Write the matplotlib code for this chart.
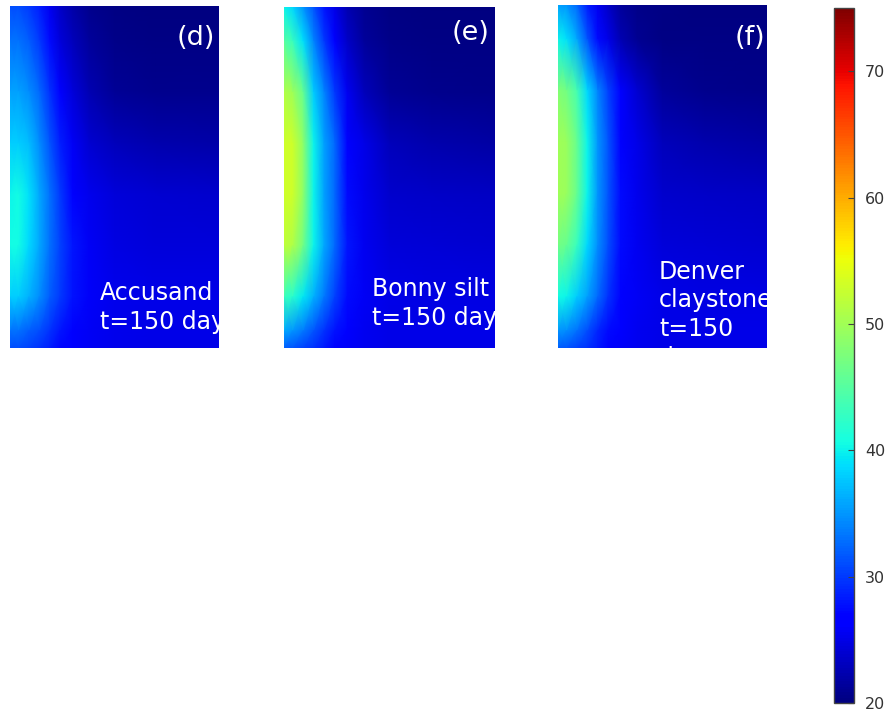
import numpy as np
import matplotlib
matplotlib.use("Agg")
import matplotlib.pyplot as plt
from matplotlib.colors import Normalize
from matplotlib.cm import ScalarMappable

# grid positions (fraction of panel width / depth from top)
x_pos = [0, 0.04, 0.09, 0.14, 0.19, 0.24, 0.3, 0.38, 0.5, 0.7, 1.0]
y_pos = [0, 0.1, 0.25, 0.4, 0.55, 0.7, 0.85, 0.95, 1.0]

# temperature estimates (deg C), rows top -> bottom
temp_accusand = [
    [31, 31, 30, 28.5, 25.5, 23.5, 22, 20.8, 20.3, 20.2, 20.2],
    [33, 33, 32, 30, 27.5, 24.5, 22.8, 21.3, 20.5, 20.3, 20.3],
    [35.5, 35.5, 34.5, 32.5, 29.5, 26.2, 24.5, 22.5, 21.2, 20.8, 20.8],
    [38, 38, 37, 34.5, 31.5, 28.5, 25.8, 24, 22.8, 22.2, 22],
    [40, 40.5, 39, 36, 33, 30, 27, 25.3, 24.5, 24, 23.8],
    [40.5, 40.5, 38.5, 36, 33, 30.5, 28, 25.8, 24.8, 24.5, 24.5],
    [38, 38, 36.5, 34.5, 32, 30, 27.8, 26, 25.2, 25, 25],
    [33, 33, 32, 31, 29.5, 28, 26.8, 25.8, 25.2, 25, 25],
    [31, 31, 30.5, 29.5, 28.5, 27.3, 26.3, 25.6, 25.2, 25, 25],
]
temp_bonny = [
    [40, 38.5, 35, 31.5, 28, 25, 22.5, 21, 20.4, 20.2, 20.2],
    [45, 43, 39, 34, 30, 26.5, 23.5, 21.5, 20.6, 20.3, 20.3],
    [51, 50, 46, 38, 34, 30, 25.5, 23, 21.2, 20.7, 20.6],
    [53, 53, 49, 40, 35.5, 32.5, 27, 25, 23, 22.2, 21.8],
    [53, 53, 49, 40, 35.5, 32.5, 27.5, 25.3, 23.8, 23.5, 23.3],
    [52, 51, 47, 40, 36, 32.5, 28, 25.5, 24.5, 24.2, 24],
    [43, 42, 39.5, 36.5, 33.5, 30.5, 27.5, 25.8, 25, 24.8, 24.8],
    [36, 35, 33.5, 31.5, 29.5, 27.8, 26.3, 25.5, 25, 25, 25],
    [32, 31.5, 30.5, 29.5, 28.3, 27, 26, 25.4, 25, 25, 25],
]
temp_denver = [
    [35.5, 35, 32.5, 28.5, 25.5, 23.5, 21.5, 20.5, 20.3, 20.2, 20.2],
    [40, 39, 36, 31.5, 27.5, 25, 22.5, 21, 20.4, 20.3, 20.3],
    [48, 47, 44, 38.5, 34, 30.5, 26.5, 24, 21.5, 20.8, 20.6],
    [50, 49.5, 46, 40, 35, 31.5, 27, 25, 23, 22.2, 21.8],
    [50, 49.5, 46, 40, 35, 31.5, 27.5, 25.3, 23.8, 23.5, 23.3],
    [47, 46, 43, 38.5, 34.5, 31, 27.5, 25.5, 24.5, 24.2, 24],
    [40.5, 40, 38, 35.5, 32.5, 29.5, 27, 25.8, 25, 24.8, 24.8],
    [35, 34.5, 33, 31, 29, 27.5, 26.3, 25.5, 25, 25, 25],
    [32, 31.5, 30.5, 29.5, 28.3, 27, 26, 25.4, 25, 25, 25],
]
panel_letters = ["(d)", "(e)", "(f)"]
panel_texts = ["Accusand\nt=150 days", "Bonny silt\nt=150 days", "Denver\nclaystone\nt=150\ndays"]
cbar_ticks = [20, 30, 40, 50, 60, 70]
vmin, vmax = 20, 75

W, H = 887, 712
fig = plt.figure(figsize=(W / 100, H / 100), dpi=100)

def frac(x0, y0, x1, y1):
    return [x0 / W, 1 - y1 / H, (x1 - x0) / W, (y1 - y0) / H]

boxes = [frac(10, 6, 219, 348), frac(284, 7, 495, 348), frac(558, 5, 767, 348)]
letter_pos = [(0.98, 0.906), (0.976, 0.925), (0.99, 0.904)]
text_pos = [(0.43, 0.196), (0.417, 0.207), (0.483, 0.258)]
data = [temp_accusand, temp_bonny, temp_denver]

norm = Normalize(vmin=vmin, vmax=vmax)
cmap = plt.get_cmap("jet")
X, Y = np.meshgrid(x_pos, y_pos)
for box, vals, let, lp, txt, tp in zip(boxes, data, panel_letters, letter_pos, panel_texts, text_pos):
    ax = fig.add_axes(box)
    ax.pcolormesh(X, Y, np.array(vals), shading="gouraud", cmap=cmap, norm=norm)
    ax.set_xlim(0, 1)
    ax.set_ylim(1, 0)
    ax.axis("off")
    ax.text(lp[0], lp[1], let, transform=ax.transAxes, ha="right", va="center",
            color="white", fontsize=19.5, clip_on=True)
    ax.text(tp[0], tp[1], txt, transform=ax.transAxes, ha="left", va="top",
            color="white", fontsize=17, linespacing=1.25, clip_on=True)

cax = fig.add_axes(frac(834, 8, 854, 703))
cb = fig.colorbar(ScalarMappable(norm=norm, cmap=cmap), cax=cax, ticks=cbar_ticks)
cb.outline.set_edgecolor("#444444")
cb.outline.set_linewidth(1)
cax.tick_params(direction="in", length=4, width=0.8, color="#444444",
                labelsize=11.5, labelcolor="#333333", pad=8)

fig.savefig("out.png", dpi=100)
